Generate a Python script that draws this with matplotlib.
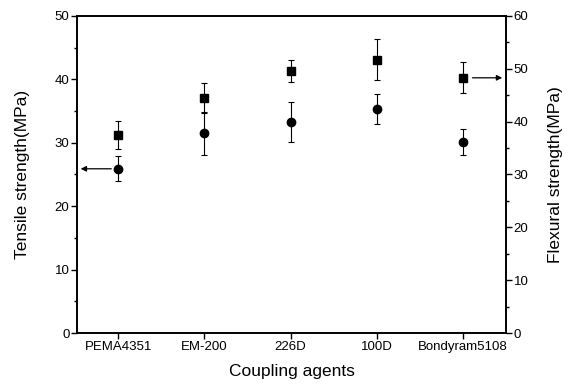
import matplotlib
matplotlib.use("Agg")
import matplotlib.pyplot as plt
from matplotlib.ticker import MultipleLocator

plt.rcParams['font.family'] = ['Liberation Sans', 'DejaVu Sans']

categories = ["PEMA4351", "EM-200", "226D", "100D", "Bondyram5108"]
tensile = [25.9, 31.5, 33.3, 35.3, 30.1]
tensile_err = [2.0, 3.4, 3.1, 2.4, 2.0]
flexural = [37.5, 44.5, 49.6, 51.7, 48.3]
flexural_err = [2.6, 2.9, 2.0, 3.9, 2.9]

fig = plt.figure(figsize=(5.68, 3.87), dpi=100)
ax = fig.add_axes([0.1356, 0.1395, 0.755, 0.8192])
ax2 = ax.twinx()

x = list(range(len(categories)))
ax.errorbar(x, tensile, yerr=tensile_err, fmt='o', color='black', ms=6,
            ecolor='black', elinewidth=0.8, capsize=2.5, capthick=0.8)
ax2.errorbar(x, flexural, yerr=flexural_err, fmt='s', color='black', ms=6,
             ecolor='black', elinewidth=0.8, capsize=2.5, capthick=0.8)

ax.set_xlim(-0.48, 4.5)
ax.set_ylim(0, 50)
ax2.set_ylim(0, 60)
ax.set_xticks(x)
ax.set_xticklabels(categories, fontsize=9.5)
ax.yaxis.set_major_locator(MultipleLocator(10))
ax.yaxis.set_minor_locator(MultipleLocator(5))
ax2.yaxis.set_major_locator(MultipleLocator(10))
ax2.yaxis.set_minor_locator(MultipleLocator(5))
for a in (ax, ax2):
    a.tick_params(axis='both', which='major', direction='out', length=4, width=1, labelsize=9.5, pad=1.5)
    a.tick_params(axis='both', which='minor', direction='out', length=2, width=1)
    for s in a.spines.values():
        s.set_linewidth(1.2)

ax.set_xlabel("Coupling agents", fontsize=12.5, labelpad=8)
ax.set_ylabel("Tensile strength(MPa)", fontsize=12.5, labelpad=18)
ax2.set_ylabel("Flexural strength(MPa)", fontsize=12.5, rotation=90, labelpad=14)

# arrows indicating axes
ax.annotate("", xy=(-0.47, tensile[0]), xytext=(-0.05, tensile[0]),
            arrowprops=dict(arrowstyle='-|>', color='black', lw=0.9, mutation_scale=8))
ax2.annotate("", xy=(4.49, flexural[4]), xytext=(4.08, flexural[4]),
             arrowprops=dict(arrowstyle='-|>', color='black', lw=0.9, mutation_scale=8))

fig.savefig("out.png", dpi=100)
